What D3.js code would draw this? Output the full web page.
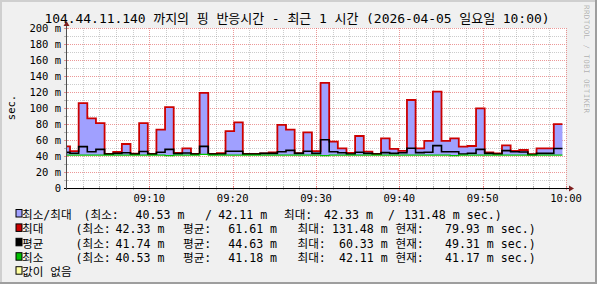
<!DOCTYPE html>
<html>
<head>
<meta charset="utf-8">
<script src="https://cdn.jsdelivr.net/npm/d3@7/dist/d3.min.js"></script>
<style>
  body { margin: 0; background: #fff; }
  text { font-family: "DejaVu Sans Mono", "Noto Sans CJK KR", monospace; fill: #000; }
</style>
</head>
<body>
<svg id="chart" width="597" height="284"></svg>
<script>
// ---- 데이터 ----
const titleText = "104.44.11.140 까지의 핑 반응시간 - 최근 1 시간 (2026-04-05 일요일 10:00)";
const rangeStart = new Date(2026, 3, 5, 9, 0, 0);
const rangeEnd = new Date(2026, 3, 5, 10, 0, 0);
const firstSampleSec = 5;    // 첫 샘플 시작 (09:00:05)
const firstStepSec = 29;     // 첫 스텝 경계 (09:00:29)
const stepSec = 62.2;        // 샘플 간격

// ms 단위
const maxMs = [52, 46, 106, 87, 81, 42.5, 45, 55, 43, 81,
  42.5, 73, 101, 44, 49.6, 42.5, 119, 42.5, 43.5, 71,
  82, 42.5, 42.5, 43.3, 44.6, 78.8, 73, 43.5, 69.6, 46,
  131.48, 58, 49.6, 43.8, 65, 45.5, 42.5, 62, 49, 46.5,
  110, 49.6, 58.8, 120.4, 58.8, 62, 51.7, 52.5, 99.6, 44.6,
  43.3, 53.3, 46.5, 47.5, 42.33, 49.6, 49.6, 79.93];
const avgMs = [44.5, 43.5, 51.7, 45.4, 48.3, 42.3, 43.3, 44, 42.3, 45.6,
  42.3, 44.6, 48.3, 43, 43.8, 42.3, 52, 42.3, 42.5, 46,
  46, 42.3, 42.3, 43.3, 43.3, 45.4, 47, 43.3, 46, 43.3,
  60.33, 45.4, 44, 42.5, 44.6, 43.3, 42.5, 44.2, 43.3, 44,
  49.6, 44.2, 44.6, 53, 45.4, 45.4, 42.5, 43.5, 48.3, 43.3,
  42.5, 46.7, 45.4, 45, 41.74, 43.3, 43.3, 49.31];
const minMs = [41.2, 41.2, 41.1, 41.2, 41.2, 41.2, 41.1, 41.2, 41.2, 41.2,
  41.2, 41.2, 40.53, 41.2, 41.2, 41.2, 42.11, 41.2, 41.2, 41.1,
  41.2, 41.2, 41.2, 41.1, 41.2, 41.2, 41.2, 41.2, 41.1, 41.2,
  40.53, 41.2, 41.2, 41.2, 41.1, 41.2, 41.2, 41.2, 41.2, 41.2,
  41.1, 41.2, 41.2, 41.2, 41.2, 40.53, 41.2, 41.2, 41.1, 41.2,
  41.2, 41.2, 41.2, 41.2, 41.2, 41.2, 41.2, 41.17];

const yTicks = [0, 20, 40, 60, 80, 100, 120, 140, 160, 180, 200];
const yMinorTicks = [10, 30, 50, 70, 90, 110, 130, 150, 170, 190];
const xTickLabels = ["09:10", "09:20", "09:30", "09:40", "09:50", "10:00"];
const yUnit = "sec.";

const legendNames = ["최소/최대", "최대", "평균", "최소", "값이 없음"];
const legendColors = ["#A0A0FF", "#CC0000", "#000000", "#00C000", "#FFFFA0"];
const rangeStats = [40.53, 42.11, 42.33, 131.48];
const maxStats = [42.33, 61.61, 131.48, 79.93];
const avgStats = [41.74, 44.63, 60.33, 49.31];
const minStats = [40.53, 41.18, 42.11, 41.17];
const statLabels = ["(최소:", "평균:", "최대:", "현재:"];

// ---- 레이아웃 ----
const W = 597, H = 284;
const plot = {left: 66, right: 566, top: 28, bottom: 188};

const svg = d3.select("#chart");

// 배경 + 3D 테두리
svg.append("rect").attr("width", W).attr("height", H).attr("fill", "#F0F0F0");
svg.append("path").attr("d", `M0,0H${W}V2H2V${H}H0Z`).attr("fill", "#CFCFCF");
svg.append("path").attr("d", `M${W},${H}H0V${H-2}H${W-2}V0H${W}Z`).attr("fill", "#9E9E9E");

// 캔버스
svg.append("rect")
  .attr("x", plot.left).attr("y", plot.top)
  .attr("width", plot.right - plot.left).attr("height", plot.bottom - plot.top)
  .attr("fill", "#fff");

const x = d3.scaleTime().domain([rangeStart, rangeEnd]).range([plot.left, plot.right]);
const y = d3.scaleLinear().domain([0, 200]).range([plot.bottom, plot.top]);
const crisp = v => Math.round(v) + 0.5;

// 샘플 시간
const sampleTime = j => new Date(rangeStart.getTime() +
  1000 * (j === 0 ? firstSampleSec : firstStepSec + (j - 1) * stepSec));
const points = maxMs.map((v, j) => ({t: sampleTime(j), max: v, avg: avgMs[j], min: minMs[j]}));
const lastIdx = maxMs.length - 1;
points.push({t: sampleTime(lastIdx + 1), max: maxMs[lastIdx], avg: avgMs[lastIdx], min: minMs[lastIdx]});

// 그리드
const grid = svg.append("g");
const minorX = d3.timeMinute.every(2).range(rangeStart, rangeEnd).filter(d => d.getMinutes() % 10 !== 0);
const majorX = d3.timeMinute.every(10).range(d3.timeMinute.offset(rangeStart, 10), d3.timeMinute.offset(rangeEnd, 1));

grid.selectAll(".minor-h").data(yMinorTicks).enter().append("line")
  .attr("x1", plot.left).attr("x2", plot.right)
  .attr("y1", d => crisp(y(d))).attr("y2", d => crisp(y(d)))
  .attr("stroke", "#8F8F8F").attr("stroke-opacity", 0.46).attr("stroke-dasharray", "1,1");
grid.selectAll(".minor-v").data(minorX).enter().append("line")
  .attr("y1", plot.top).attr("y2", plot.bottom)
  .attr("x1", d => crisp(x(d))).attr("x2", d => crisp(x(d)))
  .attr("stroke", "#8F8F8F").attr("stroke-opacity", 0.46).attr("stroke-dasharray", "1,1");
grid.selectAll(".major-h").data(yTicks.filter(d => d > 0)).enter().append("line")
  .attr("x1", plot.left).attr("x2", plot.right)
  .attr("y1", d => crisp(y(d))).attr("y2", d => crisp(y(d)))
  .attr("stroke", "#DE5050").attr("stroke-opacity", 0.59).attr("stroke-dasharray", "1,1");
grid.selectAll(".major-v").data(majorX).enter().append("line")
  .attr("y1", plot.top).attr("y2", plot.bottom)
  .attr("x1", d => crisp(x(d))).attr("x2", d => crisp(x(d)))
  .attr("stroke", "#DE5050").attr("stroke-opacity", 0.59).attr("stroke-dasharray", "1,1");

// 눈금 표시
grid.selectAll(".ytick").data(yTicks.concat(yMinorTicks)).enter().append("line")
  .attr("x1", plot.left - 2).attr("x2", plot.left + 2)
  .attr("y1", d => crisp(y(d))).attr("y2", d => crisp(y(d)))
  .attr("stroke", d => d % 20 === 0 ? "#DE5050" : "#8F8F8F").attr("stroke-opacity", 0.6);
grid.selectAll(".xtick").data(minorX.concat(majorX)).enter().append("line")
  .attr("y1", plot.bottom - 2).attr("y2", plot.bottom + 2)
  .attr("x1", d => crisp(x(d))).attr("x2", d => crisp(x(d)))
  .attr("stroke", d => d.getMinutes() % 10 === 0 ? "#DE5050" : "#8F8F8F").attr("stroke-opacity", 0.6);

// 데이터: 최소~최대 영역, 선
const area = d3.area().curve(d3.curveStepAfter)
  .x(d => x(d.t)).y0(d => y(d.min)).y1(d => y(d.max));
svg.append("path").datum(points).attr("d", area).attr("fill", legendColors[0]);

const lineOf = key => d3.line().curve(d3.curveStepAfter).x(d => x(d.t)).y(d => y(d[key]));
svg.append("path").datum(points).attr("d", lineOf("max"))
  .attr("fill", "none").attr("stroke", legendColors[1]).attr("stroke-width", 1.8);
svg.append("path").datum(points).attr("d", lineOf("avg"))
  .attr("fill", "none").attr("stroke", legendColors[2]).attr("stroke-width", 1.6);
svg.append("path").datum(points).attr("d", lineOf("min"))
  .attr("fill", "none").attr("stroke", legendColors[3]).attr("stroke-width", 1.2);

// 축
svg.append("line").attr("x1", plot.left - 2).attr("x2", plot.right + 3)
  .attr("y1", crisp(plot.bottom)).attr("y2", crisp(plot.bottom))
  .attr("stroke", "#000");
svg.append("line").attr("x1", plot.left + 0.5).attr("x2", plot.left + 0.5)
  .attr("y1", plot.bottom + 2).attr("y2", plot.top - 3)
  .attr("stroke", "#4F4F4F");
svg.append("path").attr("d", `M${plot.left - 2.5},${plot.top - 2}L${plot.left + 3.5},${plot.top - 2}L${plot.left + 0.5},${plot.top - 7}Z`)
  .attr("fill", "#7F1F1F");
svg.append("path").attr("d", `M${plot.right + 3},${plot.bottom - 2.5}L${plot.right + 3},${plot.bottom + 3.5}L${plot.right + 8},${plot.bottom + 0.5}Z`)
  .attr("fill", "#7F1F1F");

// 축 라벨
svg.selectAll(".ylabel").data(yTicks).enter().append("text")
  .attr("x", 61).attr("y", d => y(d) + 3.8)
  .attr("text-anchor", "end").style("font-size", "10.5px")
  .text(d => d === 0 ? "0" : d + " m");
svg.selectAll(".xlabel").data(majorX).enter().append("text")
  .attr("x", d => x(d)).attr("y", 201.5)
  .attr("text-anchor", "middle").style("font-size", "10.5px")
  .text((d, i) => xTickLabels[i]);
svg.append("text")
  .attr("transform", "translate(14.5,107.5) rotate(-90)")
  .attr("text-anchor", "middle").style("font-size", "10.5px")
  .text(yUnit);

// 제목
svg.append("text").attr("x", 297).attr("y", 23)
  .attr("text-anchor", "middle").style("font-size", "13px")
  .attr("textLength", 505).attr("lengthAdjust", "spacing")
  .text(titleText);

// 워터마크
svg.append("text")
  .attr("transform", "translate(584,5) rotate(90)")
  .style("font-size", "7.5px").style("fill", "#000").style("fill-opacity", 0.28)
  .attr("textLength", 108).attr("lengthAdjust", "spacing")
  .text("RRDTOOL / TOBI OETIKER");

// 범례
const legend = svg.append("g").style("font-size", "11.6px");
const rowY = [219, 233.4, 247.8, 262.2, 276.2];
const fmt = v => v.toFixed(2) + " m";

legendNames.forEach((name, i) => {
  legend.append("text").attr("x", 22).attr("y", rowY[i]).text(name);
  legend.append("rect")
    .attr("x", 16).attr("y", rowY[i] - 9.5).attr("width", 6).attr("height", 7.5)
    .attr("fill", legendColors[i]).attr("stroke", "#000").attr("stroke-width", 1);
});

// 1행: 최소/최대 범위
const r1 = [
  {x: 83.5, s: statLabels[0], a: "start"},
  {x: 184.4, s: fmt(rangeStats[0]), a: "end"},
  {x: 205, s: "/", a: "start"},
  {x: 267.2, s: fmt(rangeStats[1]), a: "end"},
  {x: 284, s: statLabels[2], a: "start"},
  {x: 372.9, s: fmt(rangeStats[2]), a: "end"},
  {x: 388, s: "/", a: "start"},
  {x: 501.7, s: fmt(rangeStats[3]) + " sec.)", a: "end"}
];
r1.forEach(p => legend.append("text").attr("x", p.x).attr("y", rowY[0])
  .attr("text-anchor", p.a).text(p.s));

// 2~4행: 최소 평균 최대 현재
[maxStats, avgStats, minStats].forEach((st, k) => {
  const yy = rowY[k + 1];
  const parts = [
    {x: 75.5, s: statLabels[0], a: "start"},
    {x: 164.4, s: fmt(st[0]), a: "end"},
    {x: 183, s: statLabels[1], a: "start"},
    {x: 277.1, s: fmt(st[1]), a: "end"},
    {x: 297.5, s: statLabels[2], a: "start"},
    {x: 387.8, s: fmt(st[2]), a: "end"},
    {x: 395.5, s: statLabels[3], a: "start"},
    {x: 535.7, s: fmt(st[3]) + " sec.)", a: "end"}
  ];
  parts.forEach(p => legend.append("text").attr("x", p.x).attr("y", yy)
    .attr("text-anchor", p.a).text(p.s));
});
</script>
</body>
</html>
